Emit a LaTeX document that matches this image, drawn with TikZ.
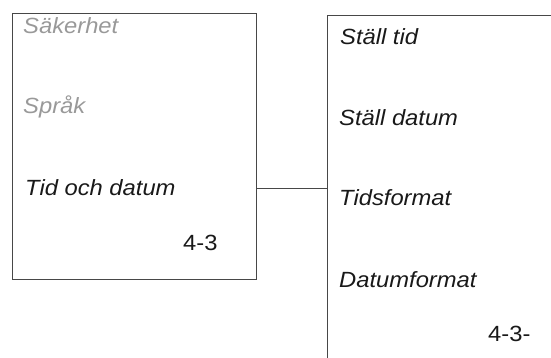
\documentclass[tikz,border=0pt]{standalone}
\usepackage{fontspec}
\setmainfont{Liberation Sans}
\newcommand{\widetxt}[1]{\scalebox{1.08}[1]{#1}}
\begin{document}
\begin{tikzpicture}[x=1pt,y=-1pt,
  boxline/.style={draw=black!72,line width=1pt},
  item/.style={anchor=base west,inner sep=0pt,font=\fontsize{22}{25}\selectfont\itshape,text=black!90},
  dim/.style={item,text=black!40},
  num/.style={anchor=base west,inner sep=0pt,font=\fontsize{22}{25}\selectfont,text=black!90}]
\useasboundingbox (0,0) rectangle (551,358);
\node[boxline,rectangle,inner sep=0pt,minimum width=244pt,minimum height=265.5pt,anchor=north west] (lbox) at (12.3,13.3) {};
\node[boxline,rectangle,inner sep=0pt,minimum width=300pt,minimum height=400pt,anchor=north west] (rbox) at (327.3,15.5) {};
\node[dim] (s1) at (23,34) {\widetxt{Säkerhet}};
\node[dim] (s2) at (23,114) {\widetxt{Språk}};
\node[item] (s3) at (25,195) {\widetxt{Tid och datum}};
\node[num] (n1) at (183,250) {\widetxt{4-3}};
\node[item] (r1) at (340,45) {\widetxt{Ställ tid}};
\node[item] (r2) at (339,126) {\widetxt{Ställ datum}};
\node[item] (r3) at (339,205) {\widetxt{Tidsformat}};
\node[item] (r4) at (339,287) {\widetxt{Datumformat}};
\node[num] (n2) at (488,341) {\widetxt{4-3-}};
\coordinate (c) at (0,188.5);
\draw[draw=black!72,line width=1pt] (lbox.east |- c) -- (rbox.west |- c);
\end{tikzpicture}
\end{document}
